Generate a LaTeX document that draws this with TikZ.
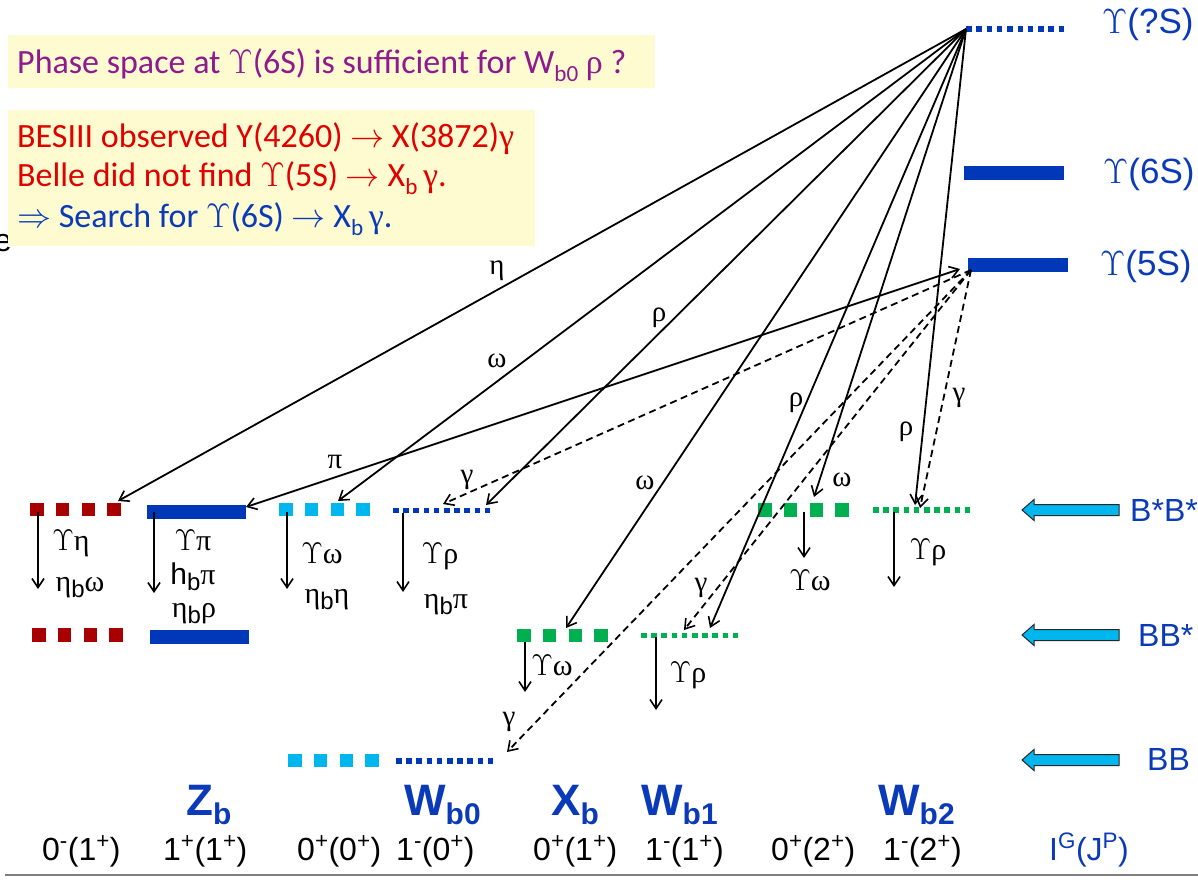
\documentclass[tikz,border=0pt]{standalone}
\usepackage{fix-cm}
\usepackage{fontspec}
\setmainfont{Carlito}
\newfontfamily\ar{Liberation Sans}
\newfontfamily\gr{Liberation Serif}
\usetikzlibrary{arrows.meta}
\definecolor{lvlblue}{HTML}{0038B8}
\definecolor{lvlred}{HTML}{A80000}
\definecolor{lvlcyan}{HTML}{00B6EE}
\definecolor{lvlgreen}{HTML}{00B050}
\definecolor{txtblue}{HTML}{0A3AB8}
\definecolor{boxyellow}{HTML}{FFFBD0}
\definecolor{txtpurple}{HTML}{8E1A8E}
\definecolor{txtred}{HTML}{E00000}
\newcommand\Ups{\ensuremath{\Upsilon}}
\newcommand\lsub[1]{\raisebox{-0.22em}{\scalebox{0.68}{#1}}}
\newcommand\dsub[1]{\raisebox{-0.2em}{\scalebox{0.8}{#1}}}
\newcommand\hollowarr[2]{%
  \filldraw[fill=lvlcyan,draw=black!85,line width=1pt] (#1,#2) -- (#1+12,#2-10.5) -- (#1+12,#2-5.5) -- (#1+97,#2-5.5) -- (#1+97,#2+5.5) -- (#1+12,#2+5.5) -- (#1+12,#2+10.5) -- cycle;}
\begin{document}
\begin{tikzpicture}[x=1pt,y=-1pt,
  sqlev/.style={line width=13.5pt, dash pattern=on 13.5pt off 12.3pt},
  dotlev/.style={line width=5.5pt, dash pattern=on 5.6pt off 4.6pt},
  barlev/.style={line width=14pt},
  tr/.style={line width=1.8pt, -{Straight Barb[length=9pt,width=12pt,line width=1.6pt]}},
  trboth/.style={line width=1.8pt, {Straight Barb[length=9pt,width=12pt,line width=1.6pt]}-{Straight Barb[length=9pt,width=12pt,line width=1.6pt]}},
  dtr/.style={tr, dash pattern=on 7pt off 4.5pt},
  down/.style={line width=1.8pt, -{Straight Barb[length=9pt,width=12pt,line width=1.6pt]}},
  tlab/.style={font=\gr\fontsize{29}{29}\selectfont, inner sep=0pt},
  dlab/.style={font=\gr\fontsize{30}{30}\selectfont, inner sep=0pt},
  rlab/.style={font=\ar\fontsize{35}{35}\selectfont, text=txtblue, inner sep=0pt, anchor=west},
  blab/.style={font=\ar\fontsize{32}{32}\selectfont, text=txtblue, inner sep=0pt, anchor=west},
  nlab/.style={font=\ar\bfseries\fontsize{44}{44}\selectfont, text=txtblue, inner sep=0pt, anchor=base west},
  jlab/.style={font=\ar\fontsize{32}{32}\selectfont, inner sep=0pt, anchor=base west},
  btxt/.style={font=\fontsize{34}{40}\selectfont, inner sep=0pt, anchor=base west}]
\useasboundingbox (0,0) rectangle (1198,882);
\fill[white] (0,0) rectangle (1198,882);

% fragment behind the box
\node[anchor=base east, font=\ar\fontsize{32}{32}\selectfont, inner sep=0pt] (efrag) at (12,252) {e};

% info boxes
\fill[boxyellow] (8,35) rectangle (655,88);
\fill[boxyellow] (8,110) rectangle (535,246);
\node[btxt, text=txtpurple] (phase) at (17,74) {Phase space at \Ups(6S) is sufficient for W\lsub{b0} {\gr ρ} ?};
\node[btxt, text=txtred] (l1) at (17,148) {BESIII observed Y(4260) \(\rightarrow\) X(3872){\gr γ}};
\node[btxt, text=txtred] (l2) at (17,187) {Belle did not find \Ups(5S) \(\rightarrow\) X\lsub{b}\,{\gr γ}.};
\node[btxt, text=txtblue] (l3) at (17,228) {\(\Rightarrow\) Search for \Ups(6S) \(\rightarrow\) X\lsub{b}\,{\gr γ}.};

% upper levels
\coordinate (qSL) at (966,29); \coordinate (qSR) at (1064,29);
\draw[lvlblue, line width=6pt, dash pattern=on 5.5pt off 4.8pt] (qSL) -- (qSR);
\coordinate (s6L) at (964,173); \coordinate (s6R) at (1064,173);
\draw[barlev, lvlblue] (s6L) -- (s6R);
\coordinate (s5L) at (968,265); \coordinate (s5R) at (1068,265);
\draw[barlev, lvlblue] (s5L) -- (s5R);
\node[rlab] (lqS) at (1102,24) {\Ups(?S)};
\node[rlab] (l6S) at (1103,174) {\Ups(6S)};
\node[rlab] (l5S) at (1100,266) {\Ups(5S)};

% lower levels
\coordinate (rbsL) at (30,509.5); \coordinate (rbsR) at (121.5,509.5);
\draw[sqlev, lvlred] (rbsL) -- (rbsR);
\coordinate (rbL) at (32,635); \coordinate (rbR) at (123.5,635);
\draw[sqlev, lvlred] (rbL) -- (rbR);
\coordinate (zbsL) at (147,512); \coordinate (zbsR) at (246,512);
\draw[barlev, lvlblue] (zbsL) -- (zbsR);
\coordinate (zbL) at (150,637); \coordinate (zbR) at (249,637);
\draw[barlev, lvlblue] (zbL) -- (zbR);
\coordinate (cbsL) at (279,509.5); \coordinate (cbsR) at (370.5,509.5);
\draw[sqlev, lvlcyan] (cbsL) -- (cbsR);
\coordinate (cbL) at (288,760.5); \coordinate (cbR) at (379.5,760.5);
\draw[sqlev, lvlcyan] (cbL) -- (cbR);
\coordinate (w0bsL) at (393,510.5); \coordinate (w0bsR) at (491,510.5);
\draw[dotlev, lvlblue] (w0bsL) -- (w0bsR);
\coordinate (w0bL) at (396,761); \coordinate (w0bR) at (494,761);
\draw[dotlev, lvlblue] (w0bL) -- (w0bR);
\coordinate (xbL) at (517,635.5); \coordinate (xbR) at (608.5,635.5);
\draw[sqlev, lvlgreen] (xbL) -- (xbR);
\coordinate (w1L) at (641,635.5); \coordinate (w1R) at (739,635.5);
\draw[dotlev, lvlgreen] (w1L) -- (w1R);
\coordinate (x2L) at (758,510); \coordinate (x2R) at (849.5,510);
\draw[sqlev, lvlgreen] (x2L) -- (x2R);
\coordinate (w2L) at (873,510); \coordinate (w2R) at (972,510);
\draw[dotlev, lvlgreen] (w2L) -- (w2R);

% transitions from Upsilon(?S)
\coordinate (tEta) at (118,501);
\coordinate (tOm1) at (338,501);
\coordinate (tRho1) at (486,505);
\coordinate (tOm2) at (566,628);
\coordinate (tRho2) at (710,628);
\coordinate (tOm3) at (814,497);
\coordinate (tRho3) at (915,505);
\draw[tr] (qSL) -- (tEta);
\draw[tr] (qSL) -- (tOm1);
\draw[tr] (qSL) -- (tRho1);
\draw[tr] (qSL) -- (tOm2);
\draw[tr] (qSL) -- (tRho2);
\draw[tr] (qSL) -- (tOm3);
\draw[tr] (qSL) -- (tRho3);
\node[tlab] (leta) at (497,271) {η};
\node[tlab] (lom1) at (497,361) {ω};
\node[tlab] (lrho1) at (659,318) {ρ};
\node[tlab] (lom2) at (645,483) {ω};
\node[tlab] (lrho2) at (796,403) {ρ};
\node[tlab] (lom3) at (842,480) {ω};
\node[tlab] (lrho3) at (906,432) {ρ};

% transitions from Upsilon(5S)
\coordinate (s5a) at (960,269);
\coordinate (s5b) at (971,270);
\coordinate (tPi) at (246,507);
\coordinate (tG1) at (443,504);
\coordinate (tG2) at (684,630);
\coordinate (tG3) at (507,752);
\coordinate (tG4) at (920,508);
\draw[trboth] (tPi) -- (s5a);
\draw[dtr] (s5b) -- (tG1);
\draw[dtr] (s5b) -- (tG2);
\draw[dtr] (s5b) -- (tG3);
\draw[dtr] (s5b) -- (tG4);
\node[tlab] (lpi) at (335,462) {π};
\node[tlab] (lg1) at (467,480) {γ};
\node[tlab] (lg2) at (701,588) {γ};
\node[tlab] (lg3) at (509,722) {γ};
\node[tlab] (lg4) at (959,398) {γ};

% internal decays
\coordinate (d1a) at (38,512); \coordinate (d1b) at (38,589);
\coordinate (d2a) at (154,512); \coordinate (d2b) at (154,593);
\coordinate (d3a) at (287,512); \coordinate (d3b) at (287,589);
\coordinate (d4a) at (403,513); \coordinate (d4b) at (403,592);
\coordinate (d5a) at (525,642); \coordinate (d5b) at (525,692);
\coordinate (d6a) at (656,637); \coordinate (d6b) at (656,710);
\coordinate (d7a) at (804,512); \coordinate (d7b) at (804,558);
\coordinate (d8a) at (894,512); \coordinate (d8b) at (894,587);
\foreach \i in {1,...,8} {\draw[down] (d\i a) -- (d\i b);}

\node[dlab] (a1) at (71,543) {\Ups η};
\node[dlab] (a2) at (80,588) {η{\ar\dsub{b}}ω};
\node[dlab] (b1) at (193,540) {\Ups π};
\node[dlab] (b2) at (193,577) {{\ar h\dsub{b}}π};
\node[dlab] (b3) at (194,614) {η{\ar\dsub{b}}ρ};
\node[dlab] (c1) at (322,553) {\Ups ω};
\node[dlab] (c2) at (327,600) {η{\ar\dsub{b}}η};
\node[dlab] (e1) at (440,556) {\Ups ρ};
\node[dlab] (e2) at (446,605) {η{\ar\dsub{b}}π};
\node[dlab] (f1) at (552,665) {\Ups ω};
\node[dlab] (g1) at (688,675) {\Ups ρ};
\node[dlab] (h1) at (810,580) {\Ups ω};
\node[dlab] (k1) at (928,552) {\Ups ρ};

% thresholds
\hollowarr{1022}{510}
\hollowarr{1022}{635}
\hollowarr{1022}{760}
\node[blab] (tBsBs) at (1130,510) {B*B*};
\node[blab] (tBBs) at (1138,635) {BB*};
\node[blab] (tBB) at (1147,759) {BB};

% names
\node[nlab] (nZb) at (186,815) {Z\lsub{b}};
\node[nlab] (nW0) at (404,815) {W\lsub{b0}};
\node[nlab] (nXb) at (551,815) {X\lsub{b}};
\node[nlab] (nW1) at (641,815) {W\lsub{b1}};
\node[nlab] (nW2) at (878,815) {W\lsub{b2}};

% quantum numbers
\node[jlab] (j1) at (42,860) {0\textsuperscript{-}(1\textsuperscript{+})};
\node[jlab] (j2) at (163,860) {1\textsuperscript{+}(1\textsuperscript{+})};
\node[jlab] (j3) at (297,860) {0\textsuperscript{+}(0\textsuperscript{+})};
\node[jlab] (j4) at (396,860) {1\textsuperscript{-}(0\textsuperscript{+})};
\node[jlab] (j5) at (533,860) {0\textsuperscript{+}(1\textsuperscript{+})};
\node[jlab] (j6) at (645,860) {1\textsuperscript{-}(1\textsuperscript{+})};
\node[jlab] (j7) at (771,860) {0\textsuperscript{+}(2\textsuperscript{+})};
\node[jlab] (j8) at (883,860) {1\textsuperscript{-}(2\textsuperscript{+})};
\node[jlab, text=txtblue] (j9) at (1049,860) {I\textsuperscript{G}(J\textsuperscript{P})};

\draw[gray, line width=2pt] (5,875) -- (1198,875);
\end{tikzpicture}
\end{document}
